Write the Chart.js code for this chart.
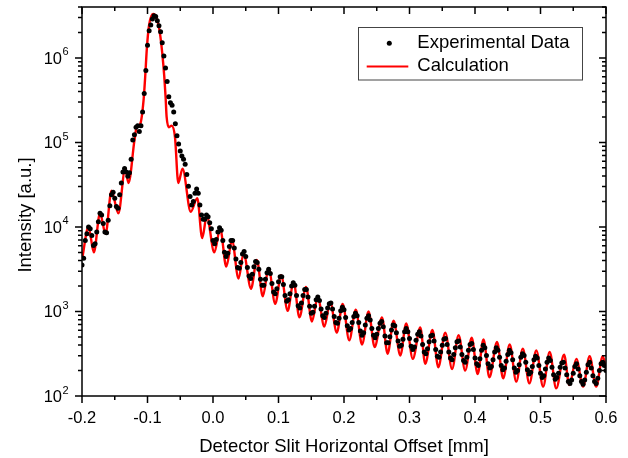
<!DOCTYPE html>
<html>
<head>
<meta charset="utf-8">
<script src="https://cdn.jsdelivr.net/npm/chart.js@4.4.0/dist/chart.umd.min.js"></script>
<style>
    html, body { margin: 0; padding: 0; background: #fff; }
    #chart { display: block; }
</style>
</head>
<body>
<canvas id="chart" width="628" height="458"></canvas>
<script>
// Detector slit scan: measured points vs. calculated curve

// Experimental data, offset in mm
const expOffset = [
    -0.2, -0.1975, -0.195, -0.1925, -0.19, -0.1875, -0.185, -0.1825, -0.18, -0.1775,
    -0.175, -0.1725, -0.17, -0.1675, -0.165, -0.1625, -0.16, -0.1575, -0.155, -0.1525,
    -0.15, -0.1475, -0.145, -0.1425, -0.14, -0.1375, -0.135, -0.1325, -0.13, -0.1275,
    -0.125, -0.1225, -0.12, -0.1175, -0.115, -0.1125, -0.11, -0.1075, -0.105, -0.1025,
    -0.1, -0.0975, -0.095, -0.0925, -0.09, -0.0875, -0.085, -0.0825, -0.08, -0.0775,
    -0.075, -0.0725, -0.07, -0.0675, -0.065, -0.0625, -0.06, -0.0575, -0.055, -0.0525,
    -0.05, -0.0475, -0.045, -0.0425, -0.04, -0.0375, -0.035, -0.0325, -0.03, -0.0275,
    -0.025, -0.0225, -0.02, -0.0175, -0.015, -0.0125, -0.01, -0.0075, -0.005, -0.0025,
    0, 0.0025, 0.005, 0.0075, 0.01, 0.0125, 0.015, 0.0175, 0.02, 0.0225,
    0.025, 0.0275, 0.03, 0.0325, 0.035, 0.0375, 0.04, 0.0425, 0.045, 0.0475,
    0.05, 0.0525, 0.055, 0.0575, 0.06, 0.0625, 0.065, 0.0675, 0.07, 0.0725,
    0.075, 0.0775, 0.08, 0.0825, 0.085, 0.0875, 0.09, 0.0925, 0.095, 0.0975,
    0.1, 0.1025, 0.105, 0.1075, 0.11, 0.1125, 0.115, 0.1175, 0.12, 0.1225,
    0.125, 0.1275, 0.13, 0.1325, 0.135, 0.1375, 0.14, 0.1425, 0.145, 0.1475,
    0.15, 0.1525, 0.155, 0.1575, 0.16, 0.1625, 0.165, 0.1675, 0.17, 0.1725,
    0.175, 0.1775, 0.18, 0.1825, 0.185, 0.1875, 0.19, 0.1925, 0.195, 0.1975,
    0.2, 0.2025, 0.205, 0.2075, 0.21, 0.2125, 0.215, 0.2175, 0.22, 0.2225,
    0.225, 0.2275, 0.23, 0.2325, 0.235, 0.2375, 0.24, 0.2425, 0.245, 0.2475,
    0.25, 0.2525, 0.255, 0.2575, 0.26, 0.2625, 0.265, 0.2675, 0.27, 0.2725,
    0.275, 0.2775, 0.28, 0.2825, 0.285, 0.2875, 0.29, 0.2925, 0.295, 0.2975,
    0.3, 0.3025, 0.305, 0.3075, 0.31, 0.3125, 0.315, 0.3175, 0.32, 0.3225,
    0.325, 0.3275, 0.33, 0.3325, 0.335, 0.3375, 0.34, 0.3425, 0.345, 0.3475,
    0.35, 0.3525, 0.355, 0.3575, 0.36, 0.3625, 0.365, 0.3675, 0.37, 0.3725,
    0.375, 0.3775, 0.38, 0.3825, 0.385, 0.3875, 0.39, 0.3925, 0.395, 0.3975,
    0.4, 0.4025, 0.405, 0.4075, 0.41, 0.4125, 0.415, 0.4175, 0.42, 0.4225,
    0.425, 0.4275, 0.43, 0.4325, 0.435, 0.4375, 0.44, 0.4425, 0.445, 0.4475,
    0.45, 0.4525, 0.455, 0.4575, 0.46, 0.4625, 0.465, 0.4675, 0.47, 0.4725,
    0.475, 0.4775, 0.48, 0.4825, 0.485, 0.4875, 0.49, 0.4925, 0.495, 0.4975,
    0.5, 0.5025, 0.505, 0.5075, 0.51, 0.5125, 0.515, 0.5175, 0.52, 0.5225,
    0.525, 0.5275, 0.53, 0.5325, 0.535, 0.5375, 0.54, 0.5425, 0.545, 0.5475,
    0.55, 0.5525, 0.555, 0.5575, 0.56, 0.5625, 0.565, 0.5675, 0.57, 0.5725,
    0.575, 0.5775, 0.58, 0.5825, 0.585, 0.5875, 0.59, 0.5925, 0.595, 0.5975,
    0.6
];

const expIntensity = [
    3550, 4270, 6920, 8320, 10000, 9550, 7940, 6030, 6310, 8710,
    11500, 14500, 13800, 11000, 8710, 8510, 12000, 17800, 24000, 25700,
    21900, 17400, 16600, 24000, 33100, 44700, 49000, 44700, 39800, 43700,
    63100, 107000, 123000, 151000, 158000, 135000, 158000, 229000, 380000, 708000,
    1410000, 2090000, 2450000, 2880000, 3160000, 3090000, 2750000, 2400000, 2040000, 1510000,
    1050000, 759000, 525000, 347000, 295000, 275000, 229000, 166000, 120000, 95500,
    79400, 69200, 63100, 55000, 41700, 30200, 22900, 18200, 20000, 25100,
    28200, 25100, 18200, 13800, 12300, 12300, 13800, 13200, 11200, 9550,
    6920, 6310, 7080, 8710, 9770, 9120, 6920, 5010, 4470, 4900,
    5890, 6920, 6920, 5620, 4170, 3310, 3240, 3800, 4790, 5130,
    4470, 3310, 2630, 2450, 2750, 3390, 3890, 3800, 3160, 2400,
    2040, 2040, 2400, 2880, 3160, 2820, 2140, 1700, 1620, 1860,
    2240, 2570, 2570, 2090, 1550, 1320, 1380, 1620, 2000, 2190,
    2040, 1550, 1170, 1100, 1260, 1550, 1820, 1820, 1480, 1150,
    955, 977, 1150, 1380, 1480, 1350, 1070, 891, 851, 955,
    1100, 1230, 1260, 1070, 871, 741, 724, 832, 1020, 1120,
    1050, 851, 676, 603, 631, 741, 871, 955, 891, 741,
    589, 525, 562, 692, 832, 891, 794, 631, 525, 490,
    537, 631, 724, 759, 661, 513, 427, 427, 501, 603,
    692, 676, 562, 447, 389, 398, 468, 575, 631, 575,
    479, 389, 355, 380, 457, 537, 575, 513, 407, 331,
    316, 363, 437, 513, 525, 447, 355, 295, 288, 331,
    398, 468, 479, 407, 331, 282, 269, 309, 372, 437,
    447, 380, 309, 263, 251, 288, 347, 407, 417, 355,
    282, 240, 229, 275, 347, 398, 372, 302, 240, 214,
    224, 269, 331, 372, 347, 288, 229, 204, 214, 257,
    309, 347, 324, 269, 214, 191, 200, 234, 288, 316,
    302, 251, 204, 182, 191, 224, 269, 295, 282, 229,
    186, 166, 174, 209, 251, 282, 263, 219, 178, 158,
    166, 186, 219, 245, 251, 214, 178, 148, 141, 155,
    186, 224, 240, 209, 174, 148, 138, 155, 191, 234,
    251, 214, 174, 148, 141, 162, 200, 240, 251, 229,
    200
];

// Calculated curve, read at its turning points
const calcOffset = [
    -0.2, -0.19, -0.182, -0.1725, -0.164, -0.155, -0.1445, -0.134, -0.129, -0.12,
    -0.1166, -0.111, -0.106, -0.1035, -0.101, -0.0977, -0.0915, -0.086, -0.081, -0.0774,
    -0.0744, -0.0724, -0.0708, -0.0672, -0.0632, -0.058, -0.053, -0.0465, -0.034, -0.024,
    -0.0165, -0.0095, 0.002, 0.011, 0.0203, 0.029, 0.039, 0.0467, 0.058, 0.067,
    0.076, 0.085, 0.095, 0.104, 0.114, 0.123, 0.132, 0.142, 0.151, 0.16,
    0.17, 0.179, 0.189, 0.198, 0.208, 0.218, 0.2275, 0.2375, 0.2467, 0.258,
    0.2666, 0.2757, 0.286, 0.295, 0.305, 0.3165, 0.324, 0.335, 0.344, 0.3546,
    0.365, 0.375, 0.385, 0.395, 0.404, 0.413, 0.422, 0.4336, 0.443, 0.453,
    0.463, 0.473, 0.483, 0.4936, 0.504, 0.514, 0.524, 0.536, 0.544, 0.5547,
    0.565, 0.575, 0.585, 0.595, 0.6
];

const calcIntensity = [
    4100, 10000, 5000, 14500, 8300, 26900, 14500, 49000, 33100, 105000,
    151000, 166000, 316000, 603000, 1290000, 2400000, 3310000, 2950000, 1950000, 1120000,
    603000, 347000, 200000, 151000, 158000, 115000, 33100, 49000, 15100, 21900,
    7400, 13500, 5000, 9550, 3390, 6920, 2450, 4900, 1860, 4070,
    1510, 3240, 1230, 2690, 1020, 2240, 851, 1950, 759, 1480,
    661, 1290, 562, 1230, 457, 1050, 407, 1000, 380, 851,
    316, 776, 302, 724, 275, 646, 240, 603, 219, 562,
    209, 525, 200, 490, 182, 468, 166, 437, 162, 407,
    148, 363, 141, 347, 129, 331, 123, 309, 135, 275,
    129, 295, 129, 295, 214
];

// Axes
const xMin = -0.2;
const xMax = 0.6;
const yMin = 100;
const yMax = 4000000;
const xMajorTicks = [-0.2, -0.1, 0.0, 0.1, 0.2, 0.3, 0.4, 0.5, 0.6];
const xTickLabels = ['-0.2', '-0.1', '0.0', '0.1', '0.2', '0.3', '0.4', '0.5', '0.6'];
const xMinorTicks = [-0.15, -0.05, 0.05, 0.15, 0.25, 0.35, 0.45, 0.55];
const yDecades = [100, 1000, 10000, 100000, 1000000];

const xTitle = 'Detector Slit Horizontal Offset [mm]';
const yTitle = 'Intensity [a.u.]';
const expLabel = 'Experimental Data';
const calcLabel = 'Calculation';

const FONT = '"Liberation Sans", Arial, sans-serif';

// Origin-style frame: box, ticks all round, labels, titles and legend
const originFrame = {
    id: 'originFrame',
    afterDraw(chart) {
        const ctx = chart.ctx;
        const { left, right, top, bottom } = chart.chartArea;
        const xs = chart.scales.x;
        const ys = chart.scales.y;

        ctx.save();
        ctx.strokeStyle = '#000';
        ctx.lineWidth = 1.5;
        ctx.strokeRect(left, top, right - left, bottom - top);

        ctx.beginPath();
        xMajorTicks.forEach(v => {
            const px = xs.getPixelForValue(v);
            ctx.moveTo(px, bottom); ctx.lineTo(px, bottom + 7);
            ctx.moveTo(px, top); ctx.lineTo(px, top + 7);
        });
        xMinorTicks.forEach(v => {
            const px = xs.getPixelForValue(v);
            ctx.moveTo(px, bottom); ctx.lineTo(px, bottom + 4);
            ctx.moveTo(px, top); ctx.lineTo(px, top + 4);
        });
        yDecades.forEach(v => {
            const py = ys.getPixelForValue(v);
            ctx.moveTo(left - 7, py); ctx.lineTo(left, py);
            ctx.moveTo(right, py); ctx.lineTo(right - 7, py);
            for (let m = 2; m <= 9; m++) {
                if (v * m > yMax) break;
                const my = ys.getPixelForValue(v * m);
                ctx.moveTo(left - 4, my); ctx.lineTo(left, my);
                ctx.moveTo(right, my); ctx.lineTo(right - 4, my);
            }
        });
        ctx.stroke();

        ctx.fillStyle = '#000';

        // x tick labels
        ctx.font = '16.5px ' + FONT;
        ctx.textAlign = 'center';
        ctx.textBaseline = 'alphabetic';
        xMajorTicks.forEach((v, i) => {
            ctx.fillText(xTickLabels[i], xs.getPixelForValue(v), bottom + 26.5);
        });

        // y tick labels as 10^n
        yDecades.forEach(v => {
            const py = ys.getPixelForValue(v);
            const exp = Math.round(Math.log10(v));
            ctx.font = '16.5px ' + FONT;
            ctx.textAlign = 'right';
            ctx.fillText('10', left - 20, py + 6);
            ctx.font = '11px ' + FONT;
            ctx.textAlign = 'left';
            ctx.fillText(String(exp), left - 19.5, py - 2.5);
        });

        // axis titles
        ctx.font = '18.5px ' + FONT;
        ctx.textAlign = 'center';
        ctx.fillText(xTitle, (left + right) / 2, 451.5);
        ctx.save();
        ctx.translate(31, 215);
        ctx.rotate(-Math.PI / 2);
        ctx.fillText(yTitle, 0, 0);
        ctx.restore();

        // legend
        ctx.lineWidth = 1;
        ctx.strokeStyle = '#444';
        ctx.fillStyle = '#fff';
        ctx.fillRect(358.5, 27.5, 224, 52.5);
        ctx.strokeRect(358.5, 27.5, 224, 52.5);

        ctx.fillStyle = '#000';
        ctx.beginPath();
        ctx.arc(389.3, 43.3, 2.5, 0, Math.PI * 2);
        ctx.fill();

        ctx.strokeStyle = '#ff0000';
        ctx.lineWidth = 2;
        ctx.beginPath();
        ctx.moveTo(366.7, 66.5);
        ctx.lineTo(408.3, 66.5);
        ctx.stroke();

        ctx.fillStyle = '#000';
        ctx.font = '18.5px ' + FONT;
        ctx.textAlign = 'left';
        ctx.textBaseline = 'middle';
        ctx.fillText(expLabel, 417.3, 43);
        ctx.fillText(calcLabel, 417.3, 66);

        ctx.restore();
    }
};

const expPoints = expOffset.map((x, i) => ({ x, y: expIntensity[i] }));
const calcPoints = calcOffset.map((x, i) => ({ x, y: calcIntensity[i] }));

new Chart(document.getElementById('chart').getContext('2d'), {
    type: 'scatter',
    data: {
        datasets: [
            {
                label: expLabel,
                data: expPoints,
                showLine: false,
                pointRadius: 2.5,
                pointBorderWidth: 0,
                pointBackgroundColor: '#000',
                borderColor: '#000'
            },
            {
                label: calcLabel,
                data: calcPoints,
                showLine: true,
                pointRadius: 0,
                borderColor: '#ff0000',
                borderWidth: 2.4,
                cubicInterpolationMode: 'monotone',
                fill: false
            }
        ]
    },
    options: {
        responsive: false,
        devicePixelRatio: 1,
        animation: false,
        events: [],
        layout: { padding: { left: 82, right: 22, top: 7, bottom: 62 } },
        plugins: {
            legend: { display: false },
            tooltip: { enabled: false }
        },
        scales: {
            x: { type: 'linear', min: xMin, max: xMax, display: false },
            y: { type: 'logarithmic', min: yMin, max: yMax, display: false }
        }
    },
    plugins: [originFrame]
});
</script>
</body>
</html>
